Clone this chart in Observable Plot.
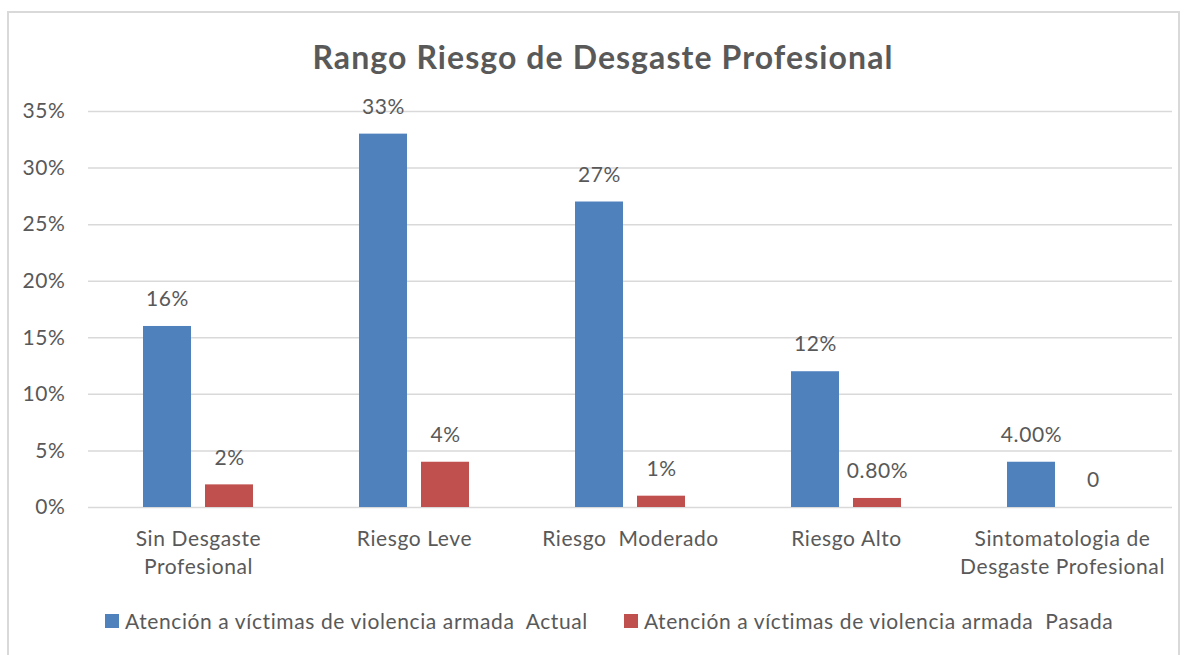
<!DOCTYPE html>
<html><head><meta charset="utf-8">
<script src="https://cdn.jsdelivr.net/npm/d3@7"></script>
<script src="https://cdn.jsdelivr.net/npm/@observablehq/plot@0.6"></script>
<style>
body{margin:0;background:#fff;font-family:Lato,sans-serif;color:#595959;width:1187px;height:655px;overflow:hidden;position:relative}
#frame{position:absolute;left:7px;top:11px;width:1173px;height:660px;border:2px solid #d9d9d9;box-sizing:border-box}
#title{position:absolute;top:38px;left:0;width:1187px;padding-left:19px;box-sizing:border-box;text-align:center;font-weight:bold;font-size:32px;letter-spacing:1.1px;line-height:38px;color:#595959}
#chart{position:absolute;left:0;top:90px}
#legend{position:absolute;top:609px;left:105px;display:flex;align-items:center;font-size:21px;letter-spacing:0.6px;line-height:24px;white-space:pre}
.sw{display:inline-block;width:14px;height:14px;margin-right:6px}
.item{display:flex;align-items:center;margin-right:36px}
</style>
</head><body>
<div id="frame"></div>
<div id="title">Rango Riesgo de Desgaste Profesional</div>
<div id="chart"></div>
<div id="legend"></div>
<script>
const categories = ["Sin Desgaste\nProfesional", "Riesgo Leve", "Riesgo  Moderado", "Riesgo Alto", "Sintomatologia de\nDesgaste Profesional"];
const seriesNames = ["Atención a víctimas de violencia armada  Actual", "Atención a víctimas de violencia armada  Pasada"];
const seriesColors = ["#4F81BD", "#C0504D"];
const actualValues = [0.16, 0.33, 0.27, 0.12, 0.04];
const pasadaValues = [0.02, 0.04, 0.01, 0.008, 0];
const actualLabels = ["16%", "33%", "27%", "12%", "4.00%"];
const pasadaLabels = ["2%", "4%", "1%", "0.80%", "0"];
const yTicks = [0, 0.05, 0.10, 0.15, 0.20, 0.25, 0.30, 0.35];

const actualData = categories.map((c, i) => ({cat: c, value: actualValues[i], label: actualLabels[i]}));
const pasadaData = categories.map((c, i) => ({cat: c, value: pasadaValues[i], label: pasadaLabels[i]}));

const chart = Plot.plot({
  width: 1187, height: 500,
  marginTop: 21, marginBottom: 83, marginLeft: 88, marginRight: 15,
  style: {color: "#595959", fontFamily: "Lato, sans-serif", background: "transparent", letterSpacing: "0.6px"},
  x: {domain: categories, padding: 0},
  y: {domain: [0, 0.35]},
  marks: [
    Plot.ruleY(yTicks, {stroke: "#d9d9d9", strokeWidth: 1.5}),
    Plot.barY(actualData, {x: "cat", y: "value", fill: seriesColors[0], insetLeft: 53, insetRight: 115}),
    Plot.barY(pasadaData, {x: "cat", y: "value", fill: seriesColors[1], insetLeft: 115, insetRight: 53}),
    Plot.text(actualData, {x: "cat", y: "value", text: "label", dx: -31, dy: -27, fontSize: 21, fill: "#595959"}),
    Plot.text(pasadaData, {x: "cat", y: "value", text: "label", dx: 31, dy: -27, fontSize: 21, fill: "#595959"}),
    Plot.axisY({ticks: yTicks, tickFormat: d => Math.round(d * 100) + "%", tickSize: 0, tickPadding: 23, fontSize: 21, label: null}),
    Plot.axisX({tickSize: 0, tickPadding: 19, fontSize: 21, lineHeight: 1.33, label: null})
  ]
});
document.getElementById("chart").appendChild(chart);

const legend = document.getElementById("legend");
seriesNames.forEach((n, i) => {
  const it = document.createElement("div");
  it.className = "item";
  const sw = document.createElement("span");
  sw.className = "sw"; sw.style.background = seriesColors[i];
  const t = document.createElement("span");
  t.textContent = n;
  it.appendChild(sw); it.appendChild(t);
  legend.appendChild(it);
});
</script>
</body></html>
